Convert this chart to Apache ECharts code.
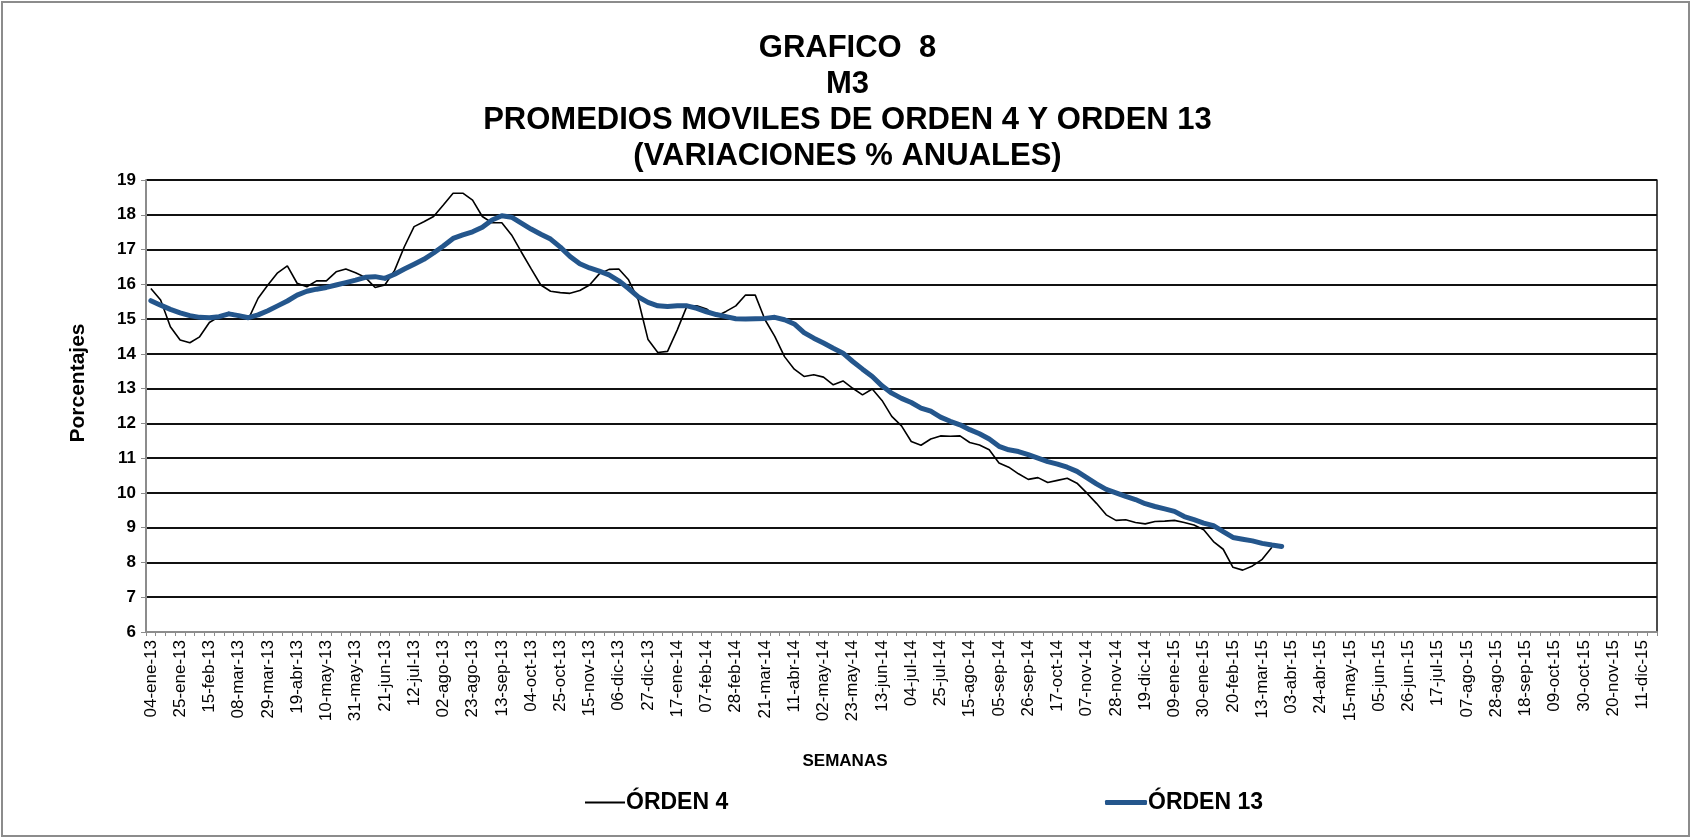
<!DOCTYPE html>
<html>
<head>
<meta charset="utf-8">
<title>GRAFICO 8 - M3</title>
<script src="https://cdn.jsdelivr.net/npm/echarts@6/dist/echarts.min.js"></script>
<style>
  html, body { margin: 0; padding: 0; background: #fff; }
  #chart { width: 1695px; height: 840px; }
</style>
</head>
<body>
<div id="chart"></div>
<script>
// semanas: viernes desde 04-ene-13 hasta 18-dic-15
const firstWeek = Date.UTC(2013, 0, 4)
const weekCount = 155
const monthNames = ['ene', 'feb', 'mar', 'abr', 'may', 'jun', 'jul', 'ago', 'sep', 'oct', 'nov', 'dic']

const weeks = []
for (let i = 0; i < weekCount; i++) {
  const d = new Date(firstWeek + i * 7 * 86400000)
  const dd = String(d.getUTCDate()).padStart(2, '0')
  const yy = String(d.getUTCFullYear()).slice(2)
  weeks.push(dd + '-' + monthNames[d.getUTCMonth()] + '-' + yy)
}

// promedio movil de orden 4
const orden4 = [
  15.88, 15.55, 14.78, 14.40, 14.32, 14.49, 14.90, 15.07, 15.19, 15.12,
  15.00, 15.60, 15.98, 16.33, 16.53, 16.03, 15.93, 16.10, 16.10, 16.36,
  16.44, 16.33, 16.20, 15.91, 15.98, 16.40, 17.08, 17.66, 17.80, 17.95,
  18.28, 18.62, 18.62, 18.42, 17.95, 17.77, 17.77, 17.42, 16.93, 16.45,
  15.98, 15.80, 15.76, 15.74, 15.82, 15.98, 16.30, 16.43, 16.44, 16.13,
  15.55, 14.41, 14.04, 14.07, 14.69, 15.38, 15.38, 15.29, 15.08, 15.22,
  15.38, 15.69, 15.69, 14.98, 14.50, 13.92, 13.56, 13.35, 13.40, 13.33,
  13.11, 13.22, 13.01, 12.82, 12.99, 12.66, 12.20, 11.93, 11.48, 11.37,
  11.55, 11.64, 11.63, 11.64, 11.45, 11.38, 11.24, 10.86, 10.74, 10.55,
  10.39, 10.44, 10.30, 10.36, 10.42, 10.28, 10.00, 9.70, 9.37, 9.21,
  9.23, 9.15, 9.11, 9.18, 9.19, 9.21, 9.15, 9.08, 8.94, 8.60,
  8.38, 7.86, 7.78, 7.90, 8.09, 8.44
]

// promedio movil de orden 13
const orden13 = [
  15.53, 15.40, 15.28, 15.18, 15.10, 15.05, 15.04, 15.07, 15.15, 15.10,
  15.04, 15.12, 15.24, 15.38, 15.52, 15.69, 15.80, 15.86, 15.91, 15.98,
  16.05, 16.12, 16.20, 16.22, 16.17, 16.29, 16.44, 16.58, 16.72, 16.90,
  17.10, 17.32, 17.42, 17.51, 17.64, 17.85, 17.97, 17.93, 17.76, 17.59,
  17.44, 17.30, 17.07, 16.80, 16.59, 16.47, 16.38, 16.27, 16.10, 15.88,
  15.64, 15.48, 15.38, 15.36, 15.38, 15.38, 15.31, 15.21, 15.13, 15.07,
  15.01, 15.00, 15.01, 15.02, 15.05, 14.98, 14.86, 14.61, 14.45, 14.31,
  14.16, 14.02, 13.78, 13.56, 13.35, 13.08, 12.87, 12.72, 12.60, 12.44,
  12.35, 12.18, 12.06, 11.96, 11.82, 11.70, 11.55, 11.34, 11.24, 11.19,
  11.10, 11.00, 10.90, 10.83, 10.74, 10.62, 10.44, 10.26, 10.10, 10.00,
  9.90, 9.81, 9.69, 9.61, 9.54, 9.47, 9.32, 9.23, 9.13, 9.06,
  8.89, 8.72, 8.67, 8.62, 8.55, 8.50, 8.46
]

const font = "'Liberation Sans', Arial, sans-serif"
const chart = echarts.init(document.getElementById('chart'))

chart.setOption({
  animation: false,
  textStyle: { fontFamily: font },
  title: {
    text: 'GRAFICO  8\nM3\nPROMEDIOS MOVILES DE ORDEN 4 Y ORDEN 13\n(VARIACIONES % ANUALES)',
    left: 'center',
    top: 25,
    textStyle: { fontSize: 31, fontWeight: 'bold', color: '#000', lineHeight: 36, fontFamily: font }
  },
  graphic: [
    {
      type: 'rect',
      shape: { x: 2, y: 2, width: 1687, height: 834 },
      style: { fill: 'none', stroke: '#8c8c8c', lineWidth: 2 },
      silent: true
    },
    {
      type: 'text',
      x: 78,
      y: 383,
      rotation: Math.PI / 2,
      style: {
        text: 'Porcentajes',
        fill: '#000',
        font: 'bold 21px ' + font,
        textAlign: 'center',
        textVerticalAlign: 'middle'
      },
      silent: true
    },
    {
      type: 'text',
      x: 845,
      y: 761,
      style: {
        text: 'SEMANAS',
        fill: '#000',
        font: 'bold 17px ' + font,
        textAlign: 'center',
        textVerticalAlign: 'middle'
      },
      silent: true
    }
  ],
  legend: [
    {
      data: ['ÓRDEN 4'],
      left: 580,
      top: 786,
      icon: 'rect',
      itemWidth: 40,
      itemHeight: 2,
      itemGap: 4,
      textStyle: { fontSize: 23, fontWeight: 'bold', color: '#000', fontFamily: font, padding: [0, 0, 0, -4] }
    },
    {
      data: ['ÓRDEN 13'],
      left: 1100,
      top: 786,
      icon: 'roundRect',
      itemWidth: 42,
      itemHeight: 5,
      textStyle: { fontSize: 23, fontWeight: 'bold', color: '#000', fontFamily: font, padding: [0, 0, 0, -4] }
    }
  ],
  grid: { left: 146, right: 38, top: 180, bottom: 208 },
  xAxis: {
    type: 'category',
    data: weeks,
    boundaryGap: true,
    axisLine: { lineStyle: { color: '#8c8c8c', width: 2 } },
    axisTick: { show: true, interval: 0, length: 4, lineStyle: { color: '#8c8c8c' } },
    axisLabel: { interval: 2, rotate: 90, fontSize: 17, color: '#000', margin: 8, fontFamily: font },
    splitLine: { show: false }
  },
  yAxis: [
    {
      type: 'value',
      min: 6,
      max: 19,
      interval: 1,
      axisLine: { show: true, lineStyle: { color: '#8c8c8c', width: 2 } },
      axisTick: { show: true, length: 5, lineStyle: { color: '#8c8c8c' } },
      axisLabel: { fontSize: 17, fontWeight: 'bold', color: '#000', margin: 10, fontFamily: font },
      splitLine: { lineStyle: { color: '#111', width: 2 } }
    },
    {
      type: 'value',
      min: 6,
      max: 19,
      position: 'right',
      axisLine: { show: true, lineStyle: { color: '#111', width: 1.5 } },
      axisTick: { show: false },
      axisLabel: { show: false },
      splitLine: { show: false }
    }
  ],
  series: [
    {
      name: 'ÓRDEN 4',
      type: 'line',
      data: orden4,
      symbol: 'none',
      color: '#000',
      lineStyle: { color: '#000', width: 1.6 },
      z: 2
    },
    {
      name: 'ÓRDEN 13',
      type: 'line',
      data: orden13,
      symbol: 'none',
      color: '#24568C',
      lineStyle: { color: '#24568C', width: 5, cap: 'round', join: 'round' },
      z: 3
    }
  ]
})
</script>
</body>
</html>
